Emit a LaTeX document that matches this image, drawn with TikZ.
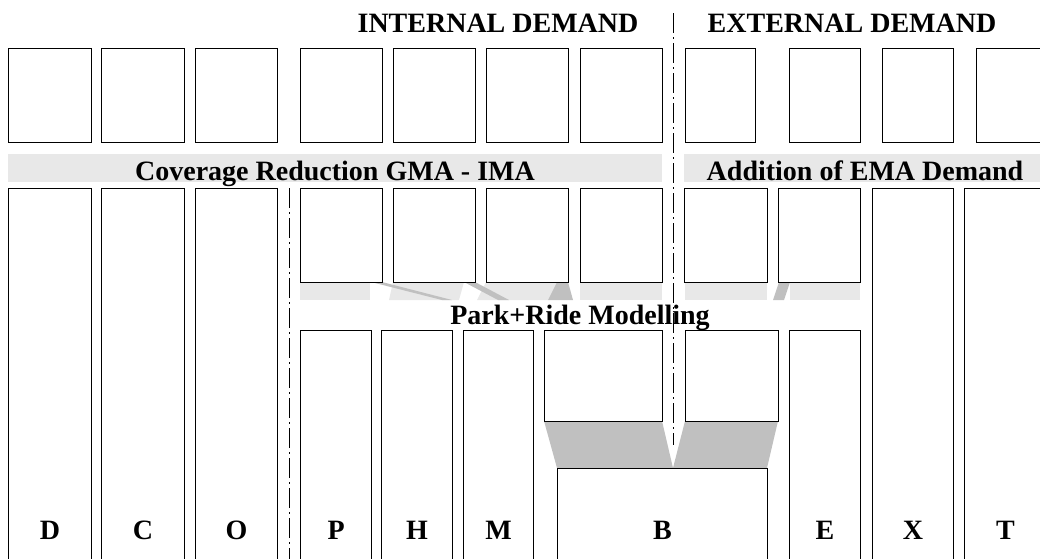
\documentclass[tikz,border=0pt]{standalone}
\usepackage{fontspec}
\setmainfont{Liberation Serif}
\definecolor{bandgray}{HTML}{E8E8E8}
\definecolor{flowgray}{HTML}{C0C0C0}
\newcommand{\headfont}{\fontsize{28pt}{30pt}\selectfont\bfseries}
\tikzset{
  box/.style 2 args={draw, line width=1.1pt, fill=white, inner sep=0pt,
    anchor=north west, minimum width=#1, minimum height=#2},
  band/.style={fill=bandgray, inner sep=0pt, minimum width=#1, minimum height=28pt,
    text height=24pt, text depth=0pt, font=\headfont},
  head/.style={font=\headfont, inner sep=0pt, anchor=base},
  divider/.style={line width=1pt, dash pattern=on 20pt off 4pt on 2pt off 4pt},
}
\begin{document}
\begin{tikzpicture}[x=1pt,y=-1pt]
  \useasboundingbox (0,0) rectangle (1040,558);
  \clip (0,0) rectangle (1040,558);
  \coordinate (base) at (0,539);
  % flows below the second row
  \fill[bandgray] (300,282) rectangle (370,300);
  \fill[bandgray] (393,282) -- (464,282) -- (459,300) -- (389,300) -- cycle;
  \fill[bandgray] (486,282) -- (557,282) -- (548,300) -- (477,300) -- cycle;
  \fill[bandgray] (580,282) rectangle (662,300);
  \fill[bandgray] (685,282) rectangle (767,300);
  \fill[bandgray] (790,282) rectangle (860,300);
  \fill[flowgray] (371,282) -- (382,282) -- (452,300) -- (442,300) -- cycle;
  \fill[flowgray] (464,282) -- (475,282) -- (509,300) -- (498,300) -- cycle;
  \fill[flowgray] (557,282) -- (568,282) -- (573,300) -- (548,300) -- cycle;
  \fill[flowgray] (779,282) -- (790,282) -- (784,300) -- (773,300) -- cycle;
  % flows into B
  \fill[flowgray] (544,421) -- (662,421) -- (673,468) -- (557,468) -- cycle;
  \fill[flowgray] (685,421) -- (778,421) -- (767,468) -- (673,468) -- cycle;
  % headers
  \node[head] (intdem) at (498,32) {INTERNAL DEMAND};
  \node[head] (extdem) at (852,32) {EXTERNAL DEMAND};
  % first row
  \node[box={83}{94}] (t1) at (8,48) {};
  \node[box={83}{94}] (t2) at (101,48) {};
  \node[box={82}{94}] (t3) at (195,48) {};
  \node[box={82}{94}] (t4) at (300,48) {};
  \node[box={82}{94}] (t5) at (393,48) {};
  \node[box={82}{94}] (t6) at (486,48) {};
  \node[box={82}{94}] (t7) at (580,48) {};
  \node[box={70}{94}] (t8) at (685,48) {};
  \node[box={71}{94}] (t9) at (789,48) {};
  \node[box={71}{94}] (t10) at (882,48) {};
  \node[box={71}{94}] (t11) at (976,48) {};
  % bands
  \node[band=654] (cov) at (335,168) {Coverage Reduction GMA - IMA};
  \node[band=362] (ema) at (865,168) {Addition of EMA Demand};
  % second row
  \node[box={83}{382}] (cD) at (8,188) {};
  \node[box={83}{382}] (cC) at (101,188) {};
  \node[box={82}{382}] (cO) at (195,188) {};
  \node[box={82}{94}] (m4) at (300,188) {};
  \node[box={82}{94}] (m5) at (393,188) {};
  \node[box={82}{94}] (m6) at (486,188) {};
  \node[box={82}{94}] (m7) at (580,188) {};
  \node[box={83}{94}] (m8) at (684,188) {};
  \node[box={82}{94}] (m9) at (778,188) {};
  \node[box={81}{382}] (cX) at (872,188) {};
  \node[box={82}{382}] (cT) at (964,188) {};
  % third row
  \node[box={71}{240}] (cP) at (300,330) {};
  \node[box={71}{240}] (cH) at (381,330) {};
  \node[box={70}{240}] (cM) at (463,330) {};
  \node[box={118}{91}] (b1) at (544,330) {};
  \node[box={93}{91}] (b2) at (685,330) {};
  \node[box={71}{240}] (cE) at (789,330) {};
  \node[box={210}{102}] (cB) at (557,468) {};
  % dividers
  \draw[divider] (673,13) -- (673,445);
  \draw[divider] (289,188) -- (289,560);
  \node[head] (prm) at (580,324) {Park+Ride Modelling};
  % column labels
  \node[head] (lD) at (cD |- base) {D};
  \node[head] (lC) at (cC |- base) {C};
  \node[head] (lO) at (cO |- base) {O};
  \node[head] (lP) at (cP |- base) {P};
  \node[head] (lH) at (cH |- base) {H};
  \node[head] (lM) at (cM |- base) {M};
  \node[head] (lB) at (cB |- base) {B};
  \node[head] (lE) at (cE |- base) {E};
  \node[head] (lX) at (cX |- base) {X};
  \node[head] (lT) at (cT |- base) {T};
\end{tikzpicture}
\end{document}
